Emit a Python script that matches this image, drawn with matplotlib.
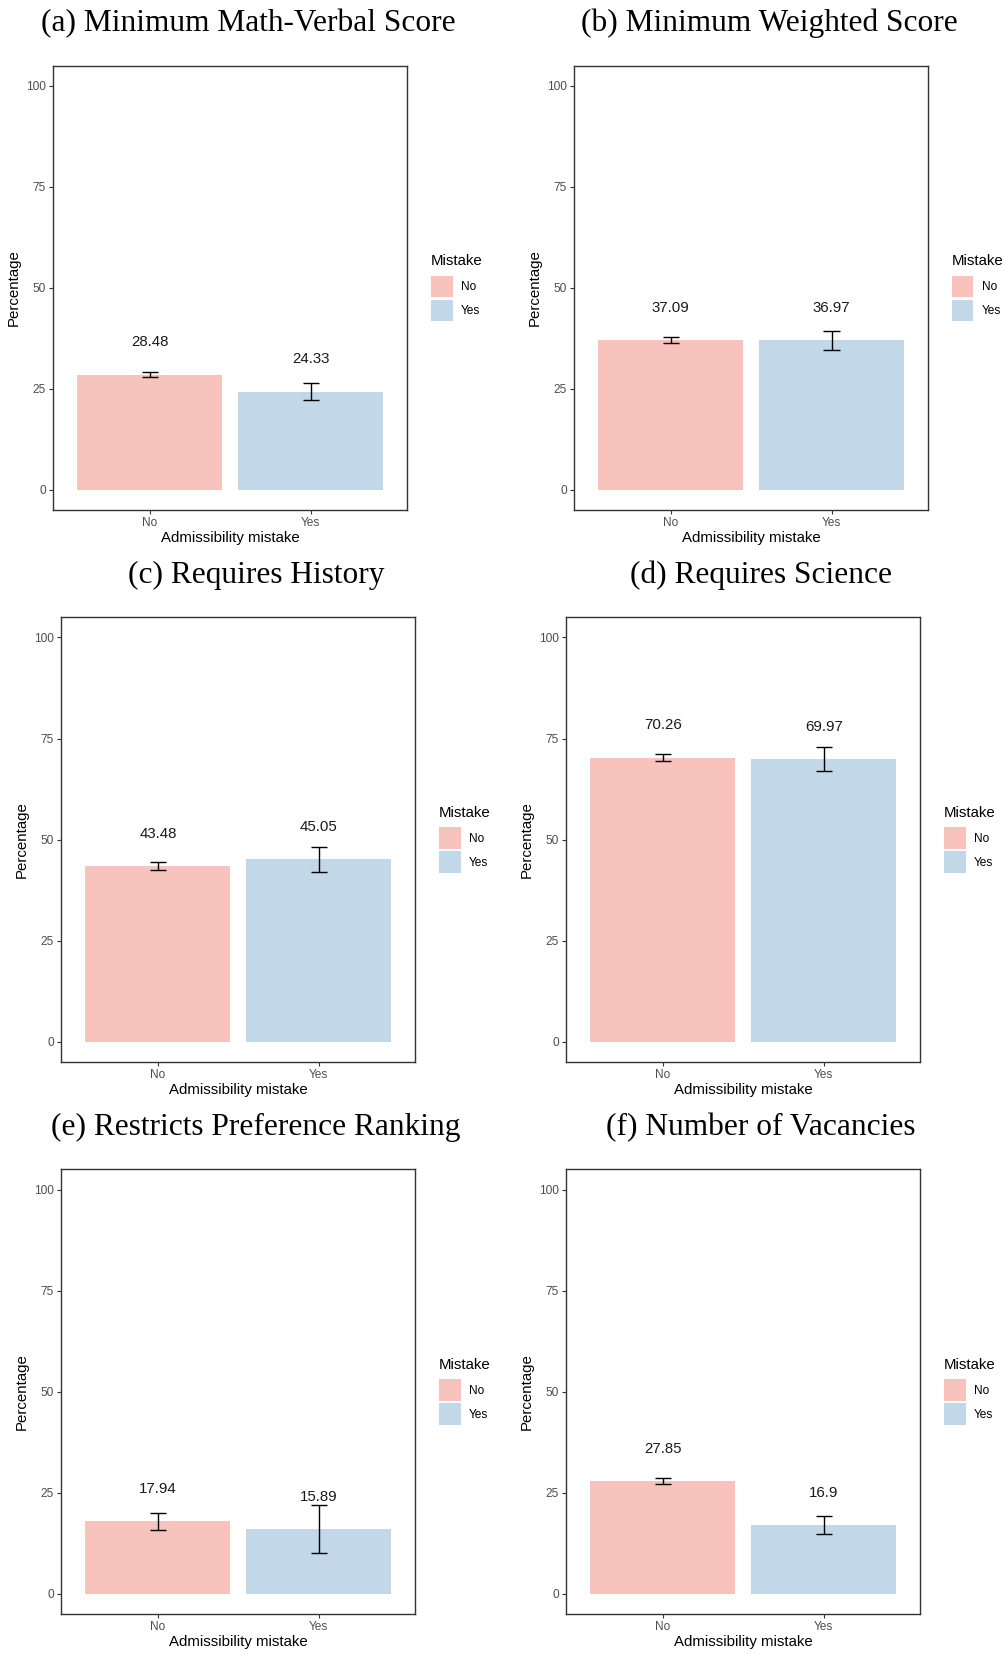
import matplotlib
matplotlib.use("Agg")
import matplotlib.pyplot as plt
from matplotlib.patches import Patch

# ---- data -------------------------------------------------------------
categories = ["No", "Yes"]
panel_titles = [
    "(a) Minimum Math-Verbal Score",
    "(b) Minimum Weighted Score",
    "(c) Requires History",
    "(d) Requires Science",
    "(e) Restricts Preference Ranking",
    "(f) Number of Vacancies",
]
means_no = [28.48, 37.09, 43.48, 70.26, 17.94, 27.85]
means_yes = [24.33, 36.97, 45.05, 69.97, 15.89, 16.9]
# half-width of the confidence intervals
err_no = [0.66, 0.85, 1.0, 0.8, 2.1, 0.82]
err_yes = [2.0, 2.38, 3.05, 3.0, 5.9, 2.18]
y_ticks = [0, 25, 50, 75, 100]

# ---- style ------------------------------------------------------------
plt.rcParams["font.family"] = ["Liberation Sans", "DejaVu Sans"]
COL_NO = "#F8C3BD"
COL_YES = "#C2D7E8"
FRAME = "#333333"
TICKTXT = "#4D4D4D"
SMALL = 8.6
LARGE = 10.8

W, H = 1006, 1655
fig = plt.figure(figsize=(W / 100, H / 100), dpi=100)

# panel boxes in pixels: left, top, right, bottom
boxes = [(53.3, 65.7, 407.3, 510.0), (574.3, 65.7, 928.0, 510.0),
         (61.3, 617.3, 415.3, 1061.7), (566.3, 617.3, 920.3, 1061.7),
         (61.3, 1169.3, 415.3, 1613.7), (566.3, 1169.3, 920.3, 1613.7)]
title_x = [248, 769, 256, 761, 256, 761]
ylabel_x = [13.7, 535.2, 22.2, 526.7, 22.2, 526.7]

xpos = list(range(len(categories)))
for i, (l, t, r, b) in enumerate(boxes):
    ax = fig.add_axes([l / W, 1 - b / H, (r - l) / W, (b - t) / H])
    vals = [means_no[i], means_yes[i]]
    errs = [err_no[i], err_yes[i]]
    ax.bar(xpos, vals, width=0.9, color=[COL_NO, COL_YES], zorder=2)
    lo = [v - e for v, e in zip(vals, errs)]
    hi = [v + e for v, e in zip(vals, errs)]
    ax.vlines(xpos, lo, hi, color="black", lw=1.0, zorder=3)
    for x, y0, y1 in zip(xpos, lo, hi):
        ax.hlines([y0, y1], x - 0.05, x + 0.05, color="black", lw=1.0, zorder=3)
    for x, v in zip(xpos, vals):
        ax.text(x, v + 8, f"{v:g}", ha="center", va="center",
                fontsize=LARGE, color="#1A1A1A")

    ax.set_xlim(-0.6, 1.6)
    ax.set_ylim(-5, 105)
    ax.set_xticks(xpos)
    ax.set_xticklabels(categories)
    ax.set_yticks(y_ticks)
    ax.set_yticklabels([str(v) for v in y_ticks])
    for sp in ax.spines.values():
        sp.set_color(FRAME)
        sp.set_linewidth(1.0)
    ax.tick_params(colors=FRAME, labelcolor=TICKTXT, length=3.1, width=0.8,
                   labelsize=SMALL, pad=2.2)

    ax.set_ylabel("Percentage", fontsize=LARGE, va="center", color="black")
    ax.yaxis.set_label_coords((ylabel_x[i] - l) / (r - l), 0.5)
    ax.set_xlabel("Admissibility mistake", fontsize=LARGE, va="center",
                  color="black")
    ax.xaxis.set_label_coords(0.5, -28.3 / (b - t))

    handles = [Patch(facecolor=COL_NO, edgecolor="none", label="No"),
               Patch(facecolor=COL_YES, edgecolor="none", label="Yes")]
    leg = ax.legend(handles=handles, title="Mistake", loc="center left",
                    bbox_to_anchor=(1 + 23.7 / (r - l), 0.5), frameon=False,
                    fontsize=SMALL, title_fontsize=LARGE, handlelength=1.81,
                    handleheight=2.41, labelspacing=0.19, handletextpad=0.7,
                    borderpad=0, borderaxespad=0, alignment="left")
    # extra room between the legend title and its keys
    leg._legend_box.sep = 5.4

    fig.text(title_x[i] / W, 1 - (t - 34.2) / H, panel_titles[i],
             ha="center", va="baseline", fontsize=22.6,
             family="Liberation Serif", color="black")

fig.savefig("out.png", dpi=100, facecolor="white")
